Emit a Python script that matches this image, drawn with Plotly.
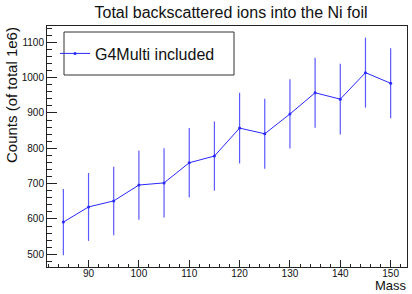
import plotly.graph_objects as go

mass = [85, 90, 95, 100, 105, 110, 115, 120, 125, 130, 135, 140, 145, 150]
counts = [591, 634, 651, 696, 702, 759, 778, 857, 841, 897, 957, 939, 1014, 984]
errors = [94, 96, 97, 98, 98, 98, 98, 100, 99, 98, 99, 100, 99, 99]

title_text = "Total backscattered ions into the Ni foil"
x_title = "Mass"
y_title = "Counts (of total 1e6)"
series_name = "G4Multi included"

FONT = "Liberation Sans, Arial, Helvetica, sans-serif"
BLUE = "rgb(40,40,255)"

fig = go.Figure()
fig.add_trace(go.Scatter(
    x=mass, y=counts, name=series_name, mode="lines+markers",
    line=dict(color=BLUE, width=1),
    marker=dict(color=BLUE, size=3),
    error_y=dict(type="data", array=errors, visible=True, width=0,
                 thickness=1.2, color="rgb(90,90,255)"),
))

W, H = 412, 294
L, R, T, B = 47, 5, 26, 27
pw = W - L - R
ph = H - T - B

def px_x(x):
    return (x - L) / pw

def px_y(y):
    return (H - B - y) / ph

fig.update_layout(
    width=W, height=H,
    margin=dict(l=L, r=R, t=T, b=B),
    paper_bgcolor="white", plot_bgcolor="white",
    font=dict(family=FONT, size=10, color="#111"),
    title=dict(text=title_text, x=231 / W, xanchor="center", y=1 - 12 / H,
               yanchor="middle", font=dict(size=16, family=FONT, color="#111")),
    showlegend=True,
    legend=dict(x=px_x(55), y=px_y(53.5), xanchor="left", yanchor="middle",
                bgcolor="rgba(0,0,0,0)", borderwidth=0,
                font=dict(size=16, family=FONT, color="#111")),
    xaxis=dict(range=[81.75, 153.25], showgrid=False, zeroline=False,
               showline=True, linecolor="#222", linewidth=1, mirror=True,
               ticks="inside", ticklen=7, tickwidth=1, tickcolor="#222",
               dtick=10, tick0=0, ticklabelstandoff=-3,
               minor=dict(ticks="inside", ticklen=3.5, dtick=2, tickcolor="#222", showgrid=False),
               tickfont=dict(size=10, family=FONT, color="#111")),
    yaxis=dict(range=[464, 1146], showgrid=False, zeroline=False,
               showline=True, linecolor="#222", linewidth=1, mirror=True,
               ticks="inside", ticklen=10, tickwidth=1, tickcolor="#222",
               dtick=100, tick0=0,
               minor=dict(ticks="inside", ticklen=5, dtick=20, tickcolor="#222", showgrid=False),
               tickfont=dict(size=10, family=FONT, color="#111")),
)

# legend frame (ROOT style box)
fig.add_shape(type="rect", xref="paper", yref="paper",
              x0=px_x(64), x1=px_x(234), y0=px_y(75), y1=px_y(32),
              line=dict(color="#333", width=1), fillcolor="rgba(0,0,0,0)")

fig.add_annotation(text=x_title, xref="paper", yref="paper", x=px_x(409), y=px_y(285),
                   xanchor="right", yanchor="middle", showarrow=False,
                   font=dict(size=13, family=FONT, color="#111"))
fig.add_annotation(text=y_title, xref="paper", yref="paper", x=px_x(11), y=px_y(25),
                   xanchor="center", yanchor="top", textangle=-90, showarrow=False,
                   font=dict(size=15, family=FONT, color="#111"))

fig.write_html("out.html", post_script="document.body.style.margin='0';",
               config={"displayModeBar": False})
